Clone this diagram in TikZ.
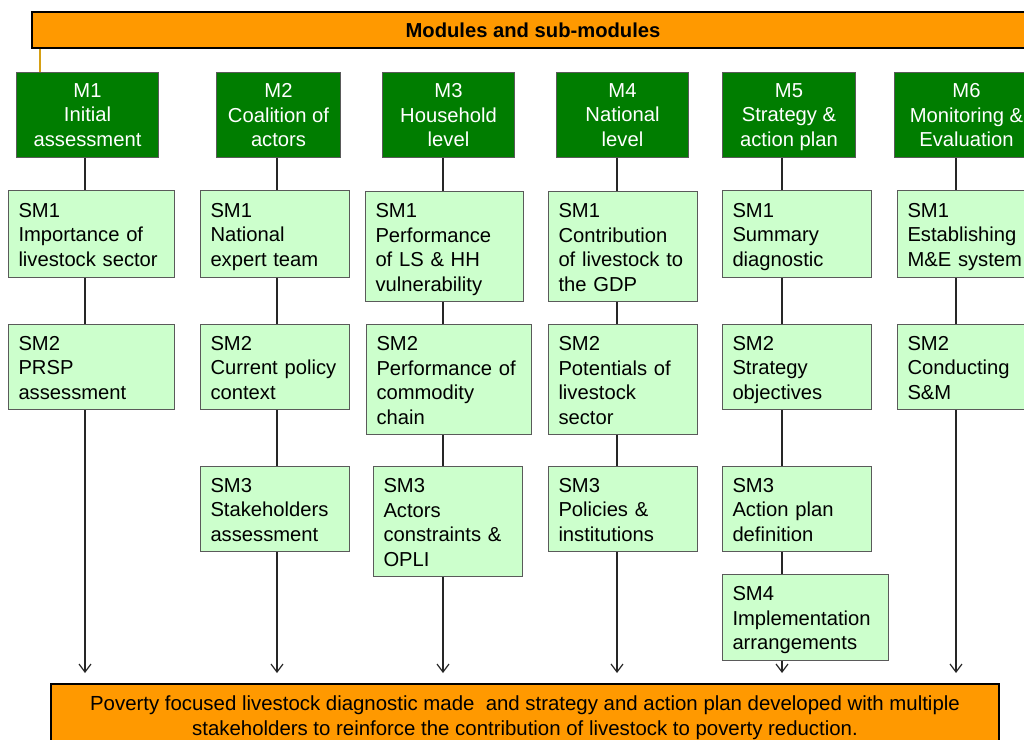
\documentclass[tikz,border=0pt]{standalone}
\usepackage{fontspec}
\setmainfont{Liberation Sans}
\usetikzlibrary{arrows.meta}
\usetikzlibrary{positioning}

\definecolor{barorange}{RGB}{255,153,0}
\definecolor{modgreen}{RGB}{0,125,0}
\definecolor{subgreen}{RGB}{204,255,204}
\definecolor{stemgold}{RGB}{214,160,20}
\definecolor{boxgray}{RGB}{90,90,90}

\begin{document}
\begin{tikzpicture}[x=1pt, y=-1pt]
        \tikzset{
          txt/.style={font=\fontsize{20.2pt}{24.5pt}\selectfont},
          headbar/.style={
            txt, draw=black, line width=2pt, fill=barorange,
            anchor=north west, inner sep=0pt,
          },
          modbox/.style={
            txt, draw=boxgray, line width=1pt, fill=modgreen,
            text=white, align=center, anchor=north west,
            inner sep=0pt, minimum height=85pt, text depth=0pt,
          },
          subbox/.style={
            txt, draw=boxgray, line width=1pt, fill=subgreen,
            align=left, anchor=north west,
            inner xsep=10pt, inner ysep=0pt,
            execute at end node={\vphantom{g}\par\kern-6pt},
          },
          link/.style={line width=1.2pt, draw=black!85},
          flow/.style={link, -{Straight Barb[length=8pt, width=12pt, line width=1.2pt]},
            shorten >=10pt},
        }
        \useasboundingbox (0,0) rectangle (1024,739);
        \clip (0,0) rectangle (1024,739);

        % header and goal
        \node[headbar, minimum width=1002pt, minimum height=36pt] (bar) at (31,11)
          {\textbf{Modules and sub-modules}};
        \node[headbar, minimum width=948pt, minimum height=63pt, align=center, text depth=0pt,
          font=\fontsize{20.4pt}{24.8pt}\selectfont] (goal) at (50,683)
          {Poverty focused livestock diagnostic made\ \ and strategy and action plan developed with multiple\\
           stakeholders to reinforce the contribution of livestock to poverty reduction.};

        % modules
        \node[modbox, minimum width=142pt] (m1) at (16,72) {M1\\Initial\\assessment};
        \node[modbox, minimum width=124pt] (m2) at (216,72) {M2\\Coalition of\\actors};
        \node[modbox, minimum width=132pt] (m3) at (382,72) {M3\\Household\\level};
        \node[modbox, minimum width=132pt] (m4) at (556,72) {M4\\National\\level};
        \node[modbox, minimum width=133pt] (m5) at (722,72) {M5\\Strategy \&\\action plan};
        \node[modbox, minimum width=144pt] (m6) at (894,72) {M6\\Monitoring \&\\Evaluation};

        % sub-modules
        \node[subbox, minimum width=166pt, minimum height=87pt, text width=146pt] (sm11) at (8,190)
          {SM1\\Importance of\\livestock sector};
        \node[subbox, minimum width=166pt, minimum height=85pt, text width=146pt] (sm12) at (8,324)
          {SM2\\PRSP\\assessment};

        \node[subbox, minimum width=149pt, minimum height=87pt, text width=129pt] (sm21) at (200,190)
          {SM1\\National\\expert team};
        \node[subbox, minimum width=149pt, minimum height=85pt, text width=129pt] (sm22) at (200,324)
          {SM2\\Current policy\\context};
        \node[subbox, minimum width=149pt, minimum height=85pt, text width=129pt] (sm23) at (200,466)
          {SM3\\Stakeholders\\assessment};

        \node[subbox, minimum width=158pt, minimum height=110pt, text width=138pt] (sm31) at (365,191)
          {SM1\\Performance\\of LS \& HH\\vulnerability};
        \node[subbox, minimum width=165pt, minimum height=110pt, text width=145pt] (sm32) at (366,324)
          {SM2\\Performance of\\commodity\\chain};
        \node[subbox, minimum width=149pt, minimum height=110pt, text width=129pt] (sm33) at (373,466)
          {SM3\\Actors\\constraints \&\\OPLI};

        \node[subbox, minimum width=149pt, minimum height=110pt, text width=129pt] (sm41) at (548,191)
          {SM1\\Contribution\\of livestock to\\the GDP};
        \node[subbox, minimum width=149pt, minimum height=110pt, text width=129pt] (sm42) at (548,324)
          {SM2\\Potentials of\\livestock\\sector};
        \node[subbox, minimum width=149pt, minimum height=85pt, text width=129pt] (sm43) at (548,466)
          {SM3\\Policies \&\\institutions};

        \node[subbox, minimum width=149pt, minimum height=87pt, text width=129pt] (sm51) at (722,190)
          {SM1\\Summary\\diagnostic};
        \node[subbox, minimum width=149pt, minimum height=85pt, text width=129pt] (sm52) at (722,324)
          {SM2\\Strategy\\objectives};
        \node[subbox, minimum width=149pt, minimum height=85pt, text width=129pt] (sm53) at (722,466)
          {SM3\\Action plan\\definition};
        \node[subbox, minimum width=166pt, minimum height=86pt, text width=146pt] (sm54) at (722,574)
          {SM4\\Implementation\\arrangements};

        \node[subbox, minimum width=149pt, minimum height=87pt, text width=129pt] (sm61) at (897,190)
          {SM1\\Establishing\\M\&E system};
        \node[subbox, minimum width=149pt, minimum height=85pt, text width=129pt] (sm62) at (897,324)
          {SM2\\Conducting\\S\&M};

        % column axes
        \coordinate (c1) at (85,0);
        \coordinate (c2) at (277,0);
        \coordinate (c3) at (443,0);
        \coordinate (c4) at (617,0);
        \coordinate (c5) at (782,0);
        \coordinate (c6) at (956,0);

        \draw[line width=1.5pt, draw=stemgold] (bar.south west -| 40,0) -- (m1.north -| 40,0);

        \draw[link]
          (m1.south -| c1) -- (sm11.north -| c1)
          (sm11.south -| c1) -- (sm12.north -| c1)
          (m2.south -| c2) -- (sm21.north -| c2)
          (sm21.south -| c2) -- (sm22.north -| c2)
          (sm22.south -| c2) -- (sm23.north -| c2)
          (m3.south -| c3) -- (sm31.north -| c3)
          (sm31.south -| c3) -- (sm32.north -| c3)
          (sm32.south -| c3) -- (sm33.north -| c3)
          (m4.south -| c4) -- (sm41.north -| c4)
          (sm41.south -| c4) -- (sm42.north -| c4)
          (sm42.south -| c4) -- (sm43.north -| c4)
          (m5.south -| c5) -- (sm51.north -| c5)
          (sm51.south -| c5) -- (sm52.north -| c5)
          (sm52.south -| c5) -- (sm53.north -| c5)
          (sm53.south -| c5) -- (sm54.north -| c5)
          (m6.south -| c6) -- (sm61.north -| c6)
          (sm61.south -| c6) -- (sm62.north -| c6);

        \draw[flow] (sm12.south -| c1) -- (goal.north -| c1);
        \draw[flow] (sm23.south -| c2) -- (goal.north -| c2);
        \draw[flow] (sm33.south -| c3) -- (goal.north -| c3);
        \draw[flow] (sm43.south -| c4) -- (goal.north -| c4);
        \draw[flow] (sm54.south -| c5) -- (goal.north -| c5);
        \draw[flow] (sm62.south -| c6) -- (goal.north -| c6);
      \end{tikzpicture}
\end{document}
